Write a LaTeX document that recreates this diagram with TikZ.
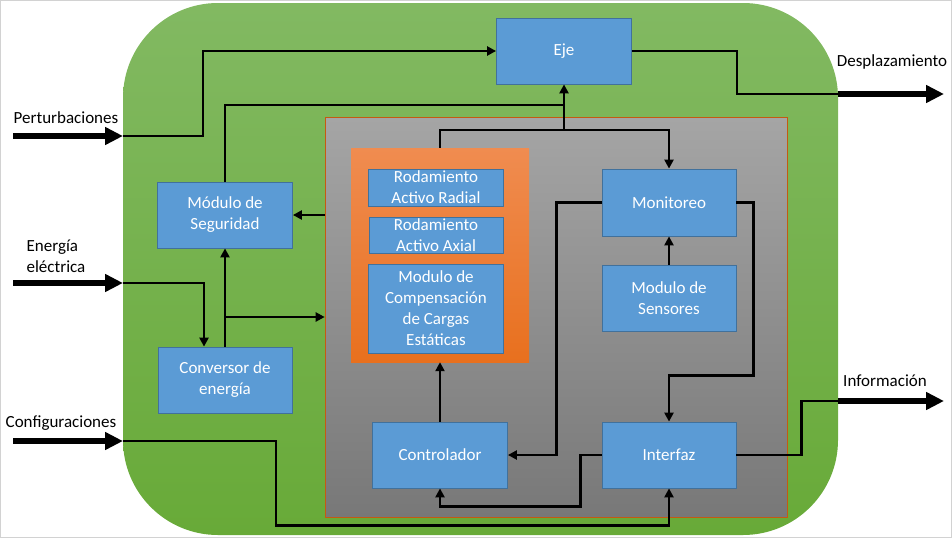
\documentclass[tikz,border=0pt]{standalone}
\usepackage{fontspec}
\setmainfont{Carlito}
\usepackage{xcolor}
\usepackage{tikz}
\usetikzlibrary{arrows.meta, positioning}

\definecolor{blkfill}{RGB}{91,155,213}
\definecolor{blkline}{RGB}{65,113,156}
\definecolor{greentop}{RGB}{130,185,98}
\definecolor{greenbot}{RGB}{104,170,56}
\definecolor{graytop}{RGB}{165,165,165}
\definecolor{graybot}{RGB}{120,120,120}
\definecolor{orgtop}{RGB}{240,140,80}
\definecolor{orgbot}{RGB}{232,112,30}
\definecolor{orgline}{RGB}{197,90,17}

\begin{document}
\begin{tikzpicture}[x=1pt, y=-1pt, every node/.style={font=\fontsize{17}{21}\selectfont},
  blk/.style={draw=blkline, fill=blkfill, text=white, align=center, inner sep=0pt, line width=0.8pt},
  link/.style={line width=2.6pt, -{Triangle[length=9pt,width=9pt]}},
  plain/.style={line width=2.6pt},
  big/.style={line width=6pt, -{Triangle[length=18pt,width=17pt]}}]
\useasboundingbox (0,0) rectangle (952,538);
\draw[gray!35, line width=1pt] (0.5,0.5) rectangle (951.5,537.5);
% Green housing
\shade[top color=greentop, bottom color=greenbot, rounded corners=95pt] (123,3) rectangle (838,535);
% Gray core and orange bearing group
\node[draw=orgline, line width=0.6pt, top color=graytop, bottom color=graybot, minimum width=462pt, minimum height=400pt, inner sep=0pt] (nucleo) at (556,317) {};
\node[top color=orgtop, bottom color=orgbot, minimum width=178pt, minimum height=214pt, inner sep=0pt] (rodam) at (440,255) {};
% Blocks
\node[blk, minimum width=135pt, minimum height=66pt] (eje) at (564,51) {Eje};
\node[blk, minimum width=135pt, minimum height=66pt] (seg) at (225,215) {Módulo de\\Seguridad};
\node[blk, minimum width=134pt, minimum height=66pt] (conv) at (225,380) {Conversor de\\energía};
\node[blk, minimum width=135pt, minimum height=37pt] (radial) at (436,187.5) {Rodamiento\\Activo Radial};
\node[blk, minimum width=134pt, minimum height=36pt] (axial) at (436,235) {Rodamiento\\Activo Axial};
\node[blk, minimum width=135pt, minimum height=89pt] (comp) at (436,308.5) {Modulo de\\Compensación\\de Cargas\\Estáticas};
\node[blk, minimum width=134pt, minimum height=67pt] (mon) at (669,202.5) {Monitoreo};
\node[blk, minimum width=134pt, minimum height=66pt] (sens) at (669,298) {Modulo de\\Sensores};
\node[blk, minimum width=135pt, minimum height=66pt] (ctrl) at (440,455) {Controlador};
\node[blk, minimum width=134pt, minimum height=66pt] (intf) at (669,455) {Interfaz};
% Outside labels
\node (lpert) at (66,118) {Perturbaciones};
\node[align=left] (lener) at (56,256) {Energía\\eléctrica};
\node (lconf) at (61,423) {Configuraciones};
\node (ldesp) at (892,62) {Desplazamiento};
\node (linfo) at (885,381) {Información};
% Ports and junctions
\coordinate (pstart) at (13,136); \coordinate (pin) at (123,136);
\coordinate (estart) at (13,283); \coordinate (ein) at (123,283);
\coordinate (cstart) at (13,441); \coordinate (cin) at (123,441);
\coordinate (dout) at (838,94); \coordinate (dend) at (944,94);
\coordinate (iout) at (838,401); \coordinate (iend) at (944,401);
\coordinate (j1) at (564,105); \coordinate (j2) at (564,130); \coordinate (j3) at (225,317);
% Inputs and outputs
\draw[big] (pstart) -- (pin);
\draw[big] (estart) -- (ein);
\draw[big] (cstart) -- (cin);
\draw[big] (dout) -- (dend);
\draw[big] (iout) -- (iend);
% Connections
\draw[link] (pin) -- ++(80,0) |- (eje.west);
\draw[plain] (seg.north) |- (j1);
\draw[link] (rodam.north) |- (j2) -| (mon.north);
\draw[link] (j2) -- (eje.south);
\draw[plain] (eje.east) -- ++(105,0) |- (dout);
\draw[link] (nucleo.west |- seg.east) -- (seg.east);
\draw[link] (ein) -| ([xshift=-21pt]conv.north);
\draw[link] (conv.north) -- (seg.south);
\draw[link] (j3) -- (j3 -| nucleo.west);
\draw[link] (ctrl.north) -- (rodam.south);
\draw[link] (mon.west) -- ++(-45,0) |- (ctrl.east);
\draw[link] (mon.east) -- ++(17,0) |- ([yshift=46pt]intf.north) -- (intf.north);
\draw[link] (sens.north) -- (mon.south);
\draw[link] (intf.west) -- ++(-21,0) |- ([yshift=-18pt]ctrl.south) -- (ctrl.south);
\draw[link] (cin) -- ++(153,0) |- ([yshift=-37pt]intf.south) -- (intf.south);
\draw[plain] (intf.east) -- ++(65,0) |- (iout);
\end{tikzpicture}
\end{document}
